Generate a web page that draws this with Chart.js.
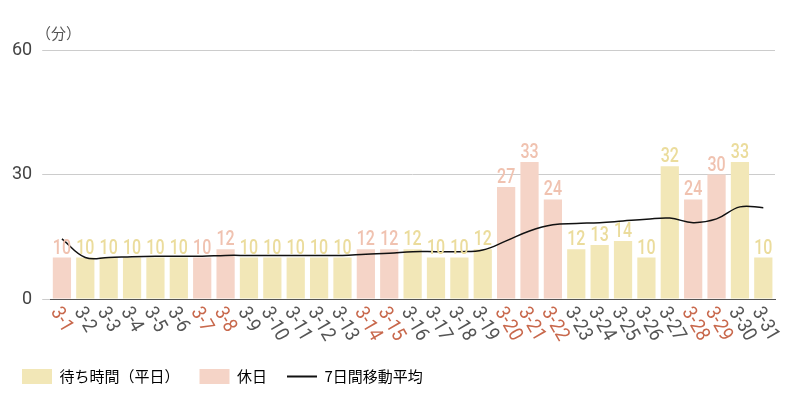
<!DOCTYPE html>
<html><head><meta charset="utf-8">
<script src="https://cdn.jsdelivr.net/npm/chart.js@4/dist/chart.umd.min.js"></script>
<style>body{margin:0;background:#fff}#wrap{width:800px;height:400px;position:relative}</style>
</head><body><div id="wrap"><canvas id="c"></canvas></div>
<script>
const labels = ["3-1","3-2","3-3","3-4","3-5","3-6","3-7","3-8","3-9","3-10","3-11","3-12","3-13","3-14","3-15","3-16","3-17","3-18","3-19","3-20","3-21","3-22","3-23","3-24","3-25","3-26","3-27","3-28","3-29","3-30","3-31"];
const waits = [10,10,10,10,10,10,10,12,10,10,10,10,10,12,12,12,10,10,12,27,33,24,12,13,14,10,32,24,30,33,10];
const holidays = ["3-1","3-7","3-8","3-14","3-15","3-20","3-21","3-22","3-28","3-29"];
const avg7 = [14.5,10,10,10.2,10.3,10.3,10.3,10.5,10.5,10.5,10.5,10.5,10.5,10.8,11,11.4,11.4,11.4,11.8,14,16.4,17.9,18.2,18.4,18.8,19.2,19.5,18.4,19.3,22.2,22];
const yTicks = [0,30,60];

const isHol = labels.map(l => holidays.includes(l));
const weekday = waits.map((v,i) => isHol[i] ? null : v);
const holiday = waits.map((v,i) => isHol[i] ? v : null);

const YEL = "#f2e7b7", PINK = "#f5d4c7";

const deco = {
  id: "deco",
  afterDatasetsDraw(chart) {
    const { ctx, scales: { x, y } } = chart;
    ctx.save();
    ctx.font = "500 20px Roboto, 'Noto Sans CJK JP'";
    ctx.textAlign = "center";
    ctx.textBaseline = "bottom";
    waits.forEach((v, i) => {
      ctx.fillStyle = isHol[i] ? "#f0c2b0" : "#ebdc9c";
      ctx.save();
      ctx.translate(x.getPixelForValue(i), y.getPixelForValue(v) + 1);
      ctx.scale(0.8, 1);
      ctx.fillText(v, 0, 0);
      ctx.restore();
    });
    ctx.font = "20px Roboto, 'Noto Sans CJK JP'";
    ctx.textAlign = "left";
    ctx.textBaseline = "middle";
    labels.forEach((l, i) => {
      ctx.save();
      ctx.translate(x.getPixelForValue(i) - 7, y.bottom + 10);
      ctx.rotate(Math.PI / 3);
      ctx.scale(0.9, 1);
      ctx.fillStyle = isHol[i] ? "#c8684c" : "#555";
      ctx.fillText(l, 0, 0);
      ctx.restore();
    });
    ctx.fillStyle = "#555";
    ctx.font = "15px 'Noto Sans CJK JP'";
    ctx.textAlign = "left";
    ctx.fillText("（分）", 36, 33);
    ctx.restore();
  }
};

new Chart(document.getElementById("c"), {
  type: "bar",
  data: {
    labels: labels,
    datasets: [
      { type: "line", label: "7日間移動平均", data: avg7, borderColor: "#111", borderWidth: 1.5, pointRadius: 0, tension: 0.4, order: 0 },
      { label: "待ち時間（平日）", data: weekday, backgroundColor: YEL, barPercentage: 0.78, categoryPercentage: 1, order: 1 },
      { label: "休日", data: holiday, backgroundColor: PINK, barPercentage: 0.78, categoryPercentage: 1, order: 1 }
    ]
  },
  options: {
    responsive: true, maintainAspectRatio: false, animation: false,
    layout: { padding: { top: 50, right: 25, left: 2, bottom: 6 } },
    scales: {
      x: { stacked: true, grid: { display: false }, border: { color: "#555" }, ticks: { display: false },
           afterFit(s) { s.height = 50; } },
      y: { stacked: false, min: 0, max: 60, border: { display: false },
           afterBuildTicks(s) { s.ticks = yTicks.map(v => ({ value: v })); },
           grid: { color: "#ccc" },
           ticks: { color: "#444", font: { size: 18, family: "Roboto" }, padding: 10 } }
    },
    plugins: {
      tooltip: { enabled: false },
      legend: {
        position: "bottom", align: "start",
        labels: {
          color: "#444", font: { size: 15, family: "'Noto Sans CJK JP'" }, usePointStyle: true, pointStyleWidth: 30, boxHeight: 15, padding: 20,
          generateLabels(chart) {
            const ds = chart.data.datasets;
            return [
              { text: ds[1].label, pointStyle: "rect", fillStyle: YEL, strokeStyle: YEL, lineWidth: 0, datasetIndex: 1 },
              { text: ds[2].label, pointStyle: "rect", fillStyle: PINK, strokeStyle: PINK, lineWidth: 0, datasetIndex: 2 },
              { text: ds[0].label, pointStyle: "line", strokeStyle: "#111", lineWidth: 2, datasetIndex: 0 }
            ];
          }
        }
      }
    }
  },
  plugins: [deco]
});
</script></body></html>
